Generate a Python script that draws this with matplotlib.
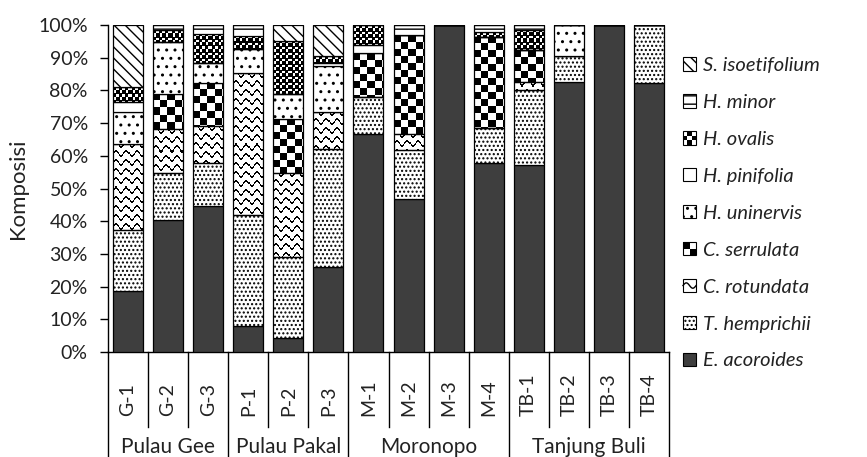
import numpy as np
import matplotlib
matplotlib.use('Agg')
import matplotlib.pyplot as plt
import matplotlib.transforms as mtransforms
from matplotlib.patches import Rectangle, Patch
from matplotlib.lines import Line2D
from matplotlib.legend_handler import HandlerBase

plt.rcParams['font.family'] = ['Lato', 'DejaVu Sans']
plt.rcParams['hatch.linewidth'] = 1.0

# sample sites and groups
samples = ['G-1', 'G-2', 'G-3', 'P-1', 'P-2', 'P-3', 'M-1', 'M-2', 'M-3', 'M-4',
           'TB-1', 'TB-2', 'TB-3', 'TB-4']
groups = ['Pulau Gee', 'Pulau Pakal', 'Moronopo', 'Tanjung Buli']
group_sizes = [3, 3, 4, 4]

# composition (%) per species, stacked bottom -> top
e_acoroides = [18.7, 40.3, 44.7, 7.9, 4.4, 26.0, 66.6, 46.9, 100, 57.7, 57.1, 82.6, 100, 82.2]
t_hemprichii = [18.5, 14.5, 13.2, 34.1, 24.5, 36.0, 11.3, 14.8, 0, 10.7, 23.0, 7.9, 0, 17.8]
c_rotundata = [26.4, 13.3, 11.2, 43.2, 25.7, 11.5, 0, 5.1, 0, 0, 2.5, 0, 0, 0]
c_serrulata = [0, 10.8, 13.2, 0, 16.8, 0, 13.4, 30.1, 0, 28.0, 9.7, 0, 0, 0]
h_uninervis = [9.7, 16.0, 6.2, 7.4, 7.4, 13.9, 0, 0, 0, 0, 0, 9.5, 0, 0]
h_pinifolia = [3.2, 0, 0, 0, 0, 1.0, 2.6, 0, 0, 0, 0, 0, 0, 0]
h_ovalis = [4.4, 3.5, 8.9, 4.0, 16.4, 2.1, 6.1, 0, 0, 1.6, 6.2, 0, 0, 0]
h_minor = [0, 1.6, 2.6, 3.4, 0, 0, 0, 3.1, 0, 2.0, 1.5, 0, 0, 0]
s_isoetifolium = [19.1, 0, 0, 0, 4.8, 9.5, 0, 0, 0, 0, 0, 0, 0, 0]

species = ['E. acoroides', 'T. hemprichii', 'C. rotundata', 'C. serrulata',
           'H. uninervis', 'H. pinifolia', 'H. ovalis', 'H. minor', 'S. isoetifolium']
values = [e_acoroides, t_hemprichii, c_rotundata, c_serrulata, h_uninervis,
          h_pinifolia, h_ovalis, h_minor, s_isoetifolium]

# fill style per species: ('color', c) / ('hatch', h) / ('tex', kind)
styles = [('color', '#3e3e3e'), ('hatch', '....'), ('tex', 'wave'), ('tex', 'big'),
          ('hatch', '..'), ('color', 'white'), ('tex', 'small'), ('hatch', '--'),
          ('hatch', '\\\\\\')]


def texture(kind, w, h):
    yy, xx = np.mgrid[0:h, 0:w]
    if kind == 'big':
        s = 7
        img = ((xx // s + yy // s) % 2).astype(float)
    elif kind == 'small':
        s = 3
        img = ((xx // s + yy // s) % 2).astype(float)
        img[(xx % 6 == 0) | (yy % 6 == 0)] = 0.0
    else:
        ym = (yy + 2.4 * np.sin(2 * np.pi * xx / 10.0)) % 9
        img = np.where(ym < 2.0, 0.0, 1.0)
    return img


fig = plt.figure(figsize=(8.67, 4.57), dpi=100)
ax = fig.add_axes([108 / 867, 1 - 352 / 457, 561 / 867, 327 / 457])
x = np.arange(len(samples))
ax.set_xlim(-0.5, len(samples) - 0.5)
ax.set_ylim(0, 100)

bottom = np.zeros(len(samples))
for name, vals, (kind, st) in zip(species, values, styles):
    vals = np.array(vals, dtype=float)
    if kind == 'color':
        ax.bar(x, vals, 0.75, bottom=bottom, color=st, edgecolor='black',
               linewidth=0.9, zorder=3)
    elif kind == 'hatch':
        ax.bar(x, vals, 0.75, bottom=bottom, facecolor='white', hatch=st,
               edgecolor='black', linewidth=0.9, zorder=3)
    else:
        bars = ax.bar(x, vals, 0.75, bottom=bottom, facecolor='none',
                      edgecolor='black', linewidth=0.9, zorder=3)
        for r in bars:
            if r.get_height() <= 0:
                continue
            x0, y0 = r.get_x(), r.get_y()
            x1, y1 = x0 + r.get_width(), y0 + r.get_height()
            p0 = ax.transData.transform((x0, y0))
            p1 = ax.transData.transform((x1, y1))
            w = max(1, int(round(p1[0] - p0[0])))
            h = max(1, int(round(p1[1] - p0[1])))
            ax.imshow(texture(st, w, h), cmap='gray', vmin=0, vmax=1,
                      extent=(x0, x1, y0, y1), aspect='auto',
                      interpolation='nearest', zorder=2, clip_path=r)
    bottom += vals

ax.set_xlim(-0.5, len(samples) - 0.5)
ax.set_ylim(0, 100)

# axes styling
for s in ['top', 'right']:
    ax.spines[s].set_visible(False)
ax.spines['left'].set_linewidth(1.0)
ax.spines['bottom'].set_linewidth(1.0)
ax.set_yticks(np.arange(0, 101, 10))
ax.set_yticklabels([f'{v}%' for v in range(0, 101, 10)], fontsize=14,
                   color='#222222')
ax.tick_params(axis='y', length=6, width=1.0, pad=8.5)
ax.set_xticks(x)
ax.set_xticklabels(samples, rotation=90, va='bottom', fontsize=14,
                   color='#222222')
ax.tick_params(axis='x', length=0, pad=46)
ax.set_ylabel('Komposisi', fontsize=16, color='#222222')
ax.yaxis.set_label_coords(-0.143, 0.5)

# category table lines below the axis
trans = mtransforms.blended_transform_factory(ax.transData, ax.transAxes)
edges = np.cumsum([0] + group_sizes) - 0.5
for i in range(len(samples) + 1):
    xe = i - 0.5
    ylow = -0.33 if xe in edges else -0.229
    ax.plot([xe, xe], [0, ylow], color='black', lw=1.0, transform=trans,
            clip_on=False)
for g, n, e0 in zip(groups, group_sizes, edges[:-1]):
    ax.text(e0 + n / 2, -0.29, g, transform=trans, ha='center', va='center',
            fontsize=15, color='#222222')


# legend handlers for textured fills
class CheckerHandler(HandlerBase):
    def __init__(self, n):
        super().__init__()
        self.n = n

    def create_artists(self, legend, orig_handle, xdescent, ydescent, width,
                       height, fontsize, trans):
        arts = [Rectangle((-xdescent, -ydescent), width, height, facecolor='white',
                          edgecolor='black', lw=0.8, transform=trans)]
        cw, ch = width / self.n, height / self.n
        for i in range(self.n):
            for j in range(self.n):
                if (i + j) % 2 == 1:
                    arts.append(Rectangle((-xdescent + j * cw, -ydescent + i * ch),
                                          cw, ch, facecolor='black', lw=0,
                                          transform=trans))
        return arts


class WaveHandler(HandlerBase):
    def create_artists(self, legend, orig_handle, xdescent, ydescent, width,
                       height, fontsize, trans):
        box = Rectangle((-xdescent, -ydescent), width, height, facecolor='white',
                        edgecolor='black', lw=0.8, transform=trans)
        t = np.linspace(0, 1, 20)
        line = Line2D(-xdescent + t * width,
                      -ydescent + height * (0.5 + 0.2 * np.sin(2 * np.pi * t)),
                      color='black', lw=1.0, transform=trans)
        return [box, line]


handles = []
handler_map = {}
for name, (kind, st) in zip(species, styles):
    if kind == 'color':
        hd = Patch(facecolor=st, edgecolor='black', lw=0.8)
    elif kind == 'hatch':
        hd = Patch(facecolor='white', hatch=st, edgecolor='black', lw=0.8)
    else:
        hd = Patch(facecolor='white', edgecolor='black')
        handler_map[hd] = WaveHandler() if st == 'wave' else CheckerHandler(2 if st == 'big' else 3)
    handles.append(hd)

fig.legend(handles[::-1], species[::-1], handler_map=handler_map,
           loc='upper left', bbox_to_anchor=(683 / 867, 1 - 57 / 457),
           frameon=False, prop={'style': 'italic', 'size': 14.5},
           labelcolor='#222222',
           handlelength=0.65, handleheight=0.65, handletextpad=0.35,
           labelspacing=0.99, borderpad=0, borderaxespad=0)

fig.savefig('out.png', dpi=100)
